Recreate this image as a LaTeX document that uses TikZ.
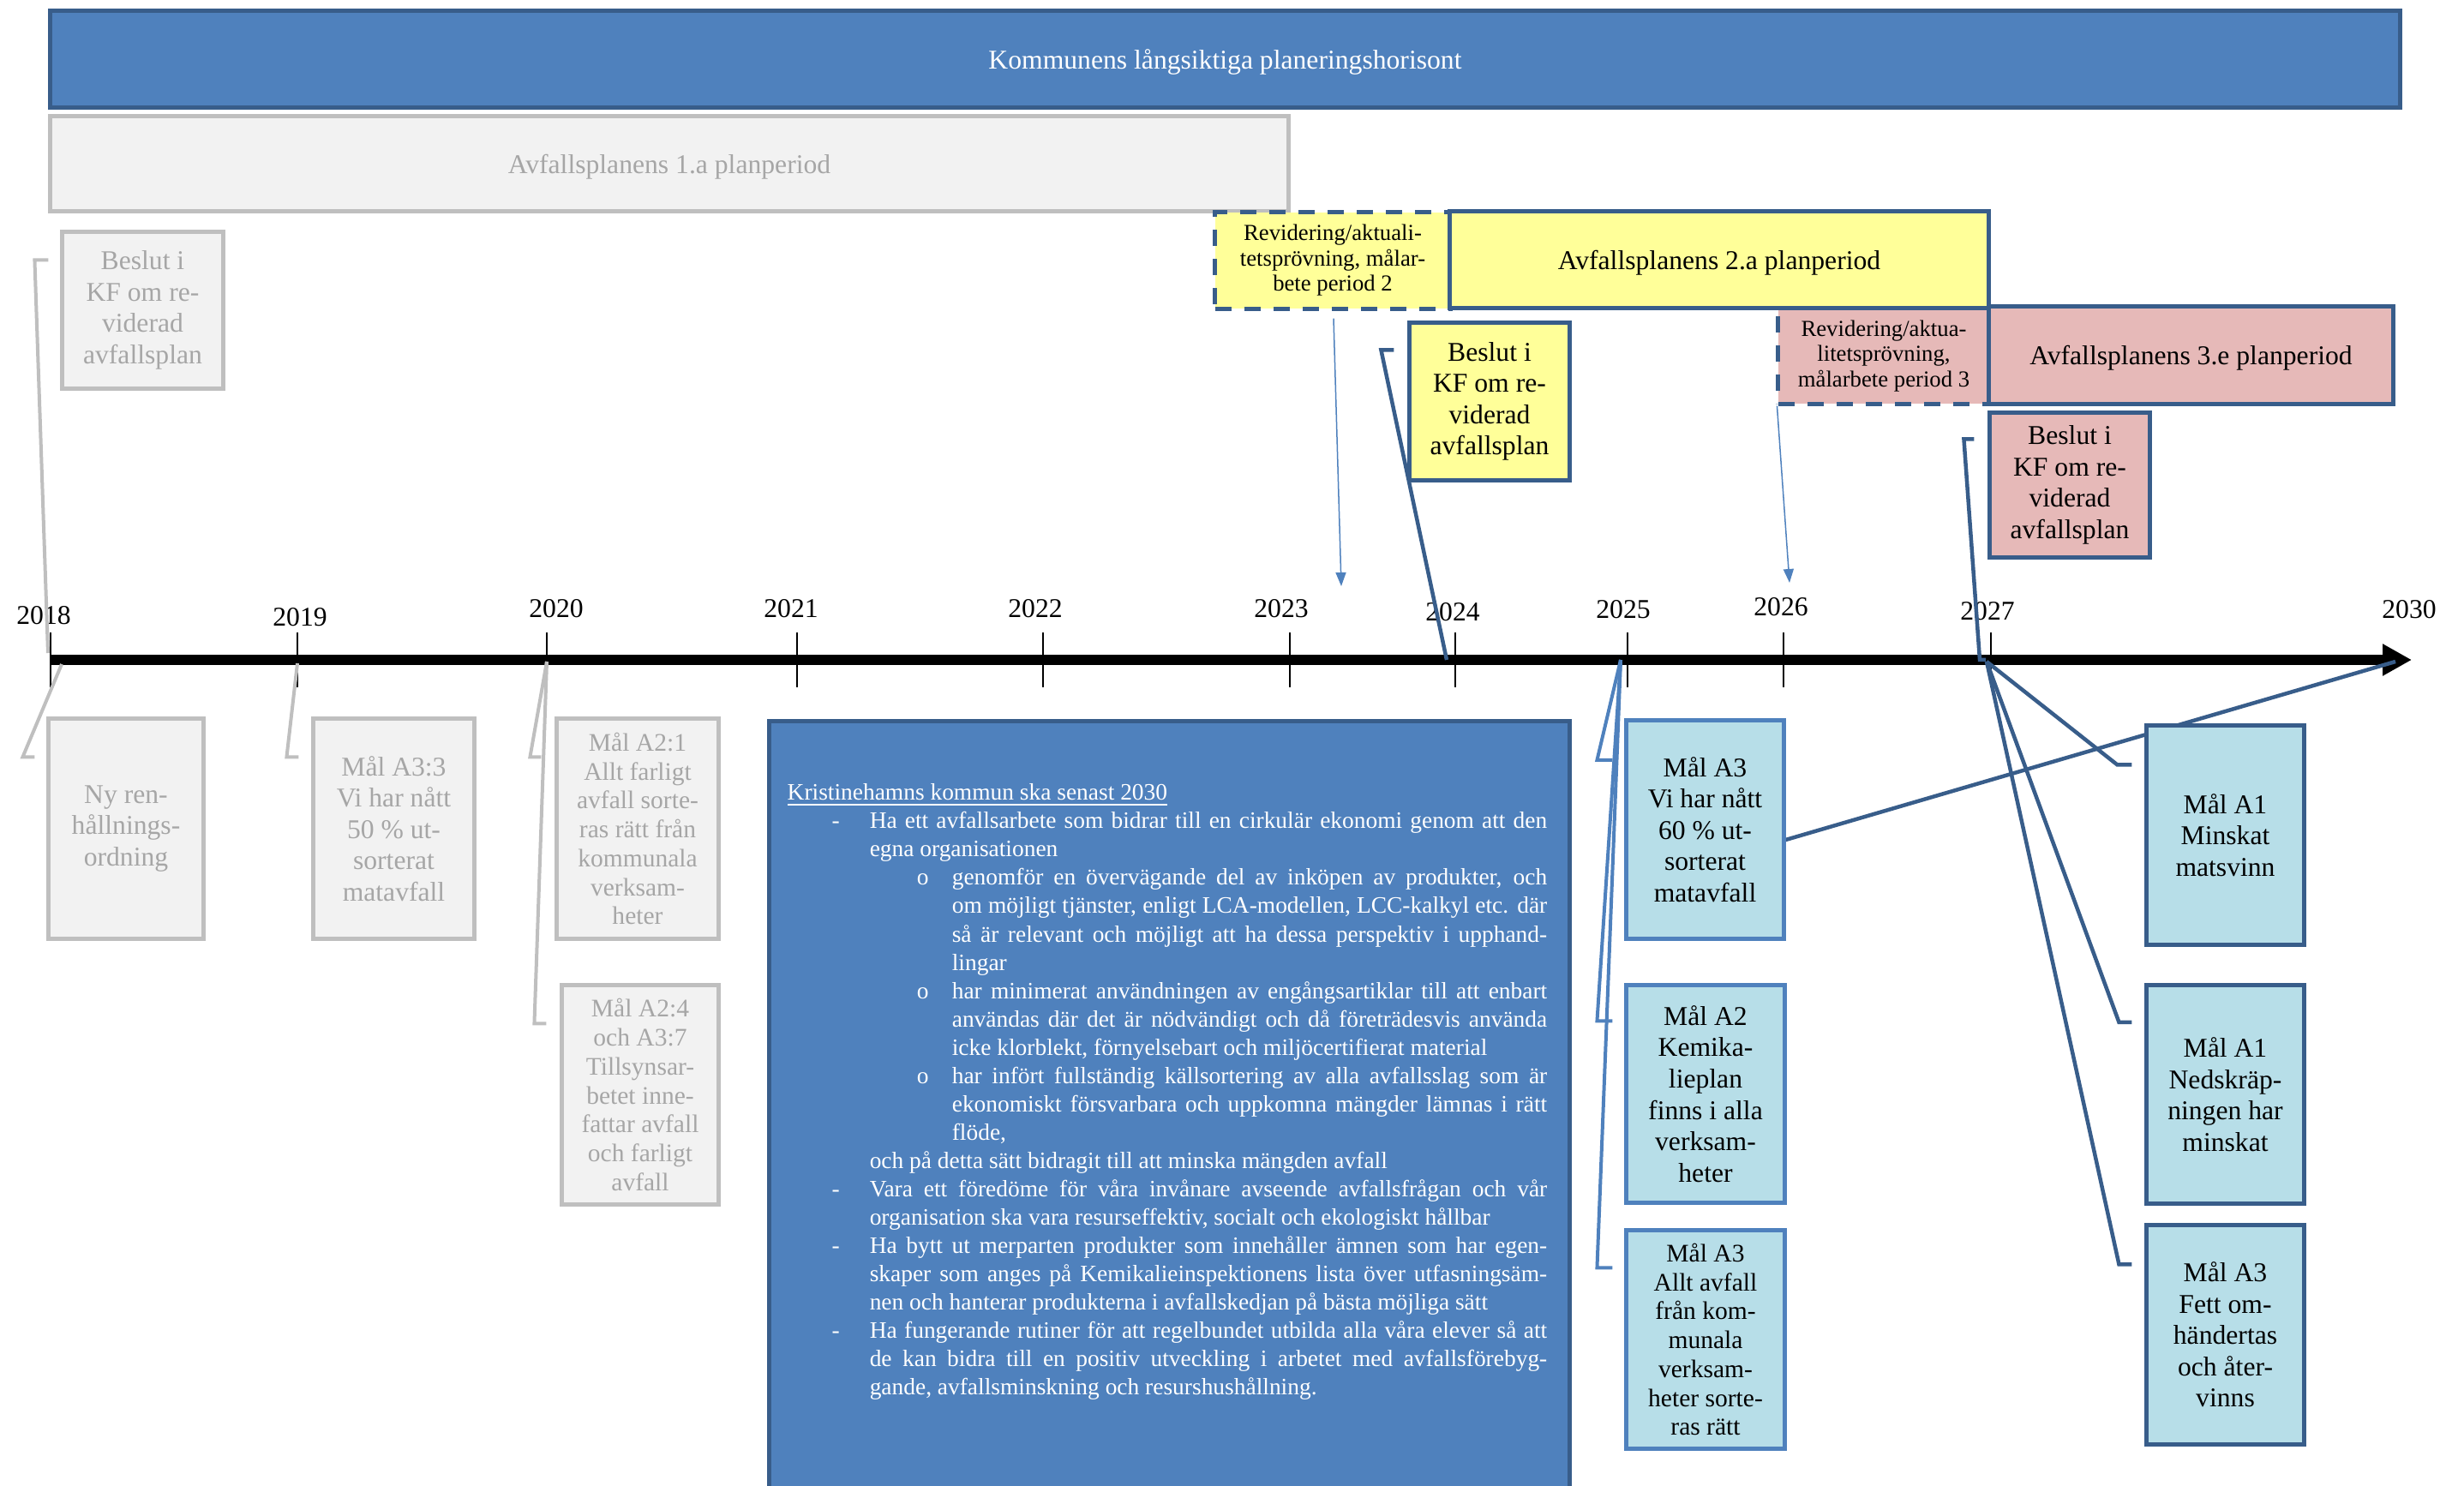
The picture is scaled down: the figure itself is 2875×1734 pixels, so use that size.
\documentclass[tikz,border=0pt]{standalone}
\usepackage{fontspec}
\setmainfont{Liberation Serif}
\usetikzlibrary{arrows.meta,backgrounds}

\definecolor{hzblue}{HTML}{4F81BD}
\definecolor{hzdark}{HTML}{385D8A}
\definecolor{goalfill}{HTML}{B7DEE8}
\definecolor{planyellow}{HTML}{FFFF99}
\definecolor{planpink}{HTML}{E6B9B8}
\definecolor{oldfill}{HTML}{F2F2F2}
\definecolor{oldline}{HTML}{BFBFBF}
\definecolor{oldtext}{HTML}{A6A6A6}

\newenvironment{dashlist}{%
  \begin{list}{-}{%
    \setlength{\leftmargin}{0.96cm}%
    \setlength{\labelwidth}{0.44cm}%
    \setlength{\labelsep}{0pt}%
    \setlength{\topsep}{0pt}%
    \setlength{\partopsep}{0pt}%
    \setlength{\itemsep}{0pt}%
    \setlength{\parsep}{0pt}%
    \setlength{\listparindent}{0pt}%
    \renewcommand*{\makelabel}[1]{##1\hfil}}}%
  {\end{list}}
\newenvironment{circlist}{%
  \begin{list}{o}{%
    \setlength{\leftmargin}{0.96cm}%
    \setlength{\labelwidth}{0.41cm}%
    \setlength{\labelsep}{0pt}%
    \setlength{\topsep}{0pt}%
    \setlength{\partopsep}{0pt}%
    \setlength{\itemsep}{0pt}%
    \setlength{\parsep}{0pt}%
    \setlength{\listparindent}{0pt}%
    \renewcommand*{\makelabel}[1]{##1\hfil}}}%
  {\end{list}}

\begin{document}
\begin{tikzpicture}[x=0.01cm, y=-0.01cm]
    \tikzset{
        box/.style={rectangle, draw=hzdark, line width=0.05cm, inner sep=0pt,
            align=center, font=\fontsize{9}{10.4}\selectfont},
        barbox/.style={text depth=0pt},
        smalltext/.style={font=\fontsize{8.4}{9.6}\selectfont},
        horizonbar/.style={box, barbox, fill=hzblue, text=white},
        oldbox/.style={box, draw=oldline, fill=oldfill, text=oldtext},
        yellowbox/.style={box, fill=planyellow},
        pinkbox/.style={box, fill=planpink},
        revbox/.style={box, dash pattern=on 0.19cm off 0.15cm,
            font=\fontsize{7.6}{8.4}\selectfont},
        goalbox/.style={box, draw=hzblue, fill=goalfill,
            minimum width=1.83cm, minimum height=2.55cm},
        panel/.style={rectangle, draw=hzdark, fill=hzblue, line width=0.05cm},
        paneltext/.style={inner sep=0pt, text=white, text width=8.86cm,
            align=justify, font=\fontsize{7.8}{9.4}\selectfont},
        yearlabel/.style={font=\fontsize{9}{10}\selectfont, inner sep=0pt},
        tickline/.style={line width=0.015cm},
        axisline/.style={line width=0.11cm, -{Triangle[length=0.34cm, width=0.35cm]}},
        oldcall/.style={draw=oldline, line width=0.04cm},
        bluecall/.style={draw=hzblue, line width=0.04cm},
        darkcall/.style={draw=hzdark, line width=0.045cm},
        revarrow/.style={draw=hzblue, line width=0.015cm,
            -{Triangle[length=0.16cm, width=0.12cm]}},
    }
    \useasboundingbox (0,0) rectangle (2875,1734);

    % Plan periods
    \node[horizonbar, minimum width=27.41cm, minimum height=1.12cm] (horizon) at (1429.5,69)
        {Kommunens långsiktiga planeringshorisont};
    \node[oldbox, barbox, minimum width=14.44cm, minimum height=1.10cm] (plan1) at (781,191)
        {Avfallsplanens 1.a planperiod};
    \node[oldbox, minimum width=1.87cm, minimum height=1.82cm] (beslut1) at (166.5,362)
        {Beslut i\\KF om re-\\viderad\\avfallsplan};
    \node[revbox, fill=planyellow, minimum width=2.74cm, minimum height=1.12cm] (rev2) at (1555,304)
        {Revidering/aktuali-\\tetsprövning, målar-\\bete period 2};
    \node[revbox, fill=planpink, minimum width=2.46cm, minimum height=1.11cm] (rev3) at (2198,415.5)
        {Revidering/aktua-\\litetsprövning,\\målarbete period 3};
    \node[yellowbox, barbox, minimum width=6.28cm, minimum height=1.12cm] (plan2) at (2006,303)
        {Avfallsplanens 2.a planperiod};
    \node[yellowbox, minimum width=1.86cm, minimum height=1.83cm] (beslut2) at (1738,468.5)
        {Beslut i\\KF om re-\\viderad\\avfallsplan};
    \node[pinkbox, barbox, minimum width=4.71cm, minimum height=1.13cm] (plan3) at (2556.5,414.5)
        {Avfallsplanens 3.e planperiod};
    \node[pinkbox, minimum width=1.86cm, minimum height=1.68cm] (beslut3) at (2415,566)
        {Beslut i\\KF om re-\\viderad\\avfallsplan};

    % Goals below the timeline
    \node[oldbox, minimum width=1.80cm, minimum height=2.56cm] (nyren) at (147,967)
        {Ny ren-\\hållnings-\\ordning};
    \node[oldbox, minimum width=1.87cm, minimum height=2.56cm] (a33) at (459.5,967)
        {Mål A3:3\\Vi har nått\\50 \% ut-\\sorterat\\matavfall};
    \node[oldbox, smalltext, minimum width=1.88cm, minimum height=2.56cm] (a21) at (744,967)
        {Mål A2:1\\Allt farligt\\avfall sorte-\\ras rätt från\\kommunala\\verksam-\\heter};
    \node[oldbox, smalltext, minimum width=1.82cm, minimum height=2.55cm] (a24) at (747,1277.5)
        {Mål A2:4\\och A3:7\\Tillsynsar-\\betet inne-\\fattar avfall\\och farligt\\avfall};
    \node[goalbox] (a3sixty) at (1989.5,968)
        {Mål A3\\Vi har nått\\60 \% ut-\\sorterat\\matavfall};
    \node[goalbox, minimum width=1.84cm, minimum height=2.53cm] (a2kem) at (1990,1276.5)
        {Mål A2\\Kemika-\\lieplan\\finns i alla\\verksam-\\heter};
    \node[goalbox, smalltext, minimum width=1.84cm, minimum height=2.54cm] (a3allt) at (1990,1563)
        {Mål A3\\Allt avfall\\från kom-\\munala\\verksam-\\heter sorte-\\ras rätt};
    \node[goalbox, draw=hzdark] (a1mat) at (2596.5,974.5)
        {Mål A1\\Minskat\\matsvinn};
    \node[goalbox, draw=hzdark] (a1ned) at (2596.5,1277)
        {Mål A1\\Nedskräp-\\ningen har\\minskat};
    \node[goalbox, draw=hzdark] (a3fett) at (2596.5,1557.5)
        {Mål A3\\Fett om-\\händertas\\och åter-\\vinns};

    % Goals 2030
    \node[panel, anchor=north west, minimum width=9.33cm, minimum height=9.2cm] (goals) at (895,839) {};
    \node[paneltext, anchor=north west] (goalstext) at ([shift={(23,75)}]goals.north west) {%
        \parindent=0pt\parskip=0pt\tolerance=10000
        \underline{Kristinehamns kommun ska senast 2030}
        \begin{dashlist}
        \item Ha ett avfallsarbete som bidrar till en cirkulär ekonomi genom att den\linebreak
            egna organisationen
            \begin{circlist}
            \item genomför en övervägande del av inköpen av produkter, och\linebreak
                om möjligt tjänster, enligt LCA-modellen, LCC-kalkyl etc. där\linebreak
                så är relevant och möjligt att ha dessa perspektiv i upphand-\linebreak
                lingar
            \item har minimerat användningen av engångsartiklar till att enbart\linebreak
                användas där det är nödvändigt och då företrädesvis använda\linebreak
                icke klorblekt, förnyelsebart och miljöcertifierat material
            \item har infört fullständig källsortering av alla avfallsslag som är\linebreak
                ekonomiskt försvarbara och uppkomna mängder lämnas i rätt\linebreak
                flöde,
            \end{circlist}
            och på detta sätt bidragit till att minska mängden avfall
        \item Vara ett föredöme för våra invånare avseende avfallsfrågan och vår\linebreak
            organisation ska vara resurseffektiv, socialt och ekologiskt hållbar
        \item Ha bytt ut merparten produkter som innehåller ämnen som har egen-\linebreak
            skaper som anges på Kemikalieinspektionens lista över utfasningsäm-\linebreak
            nen och hanterar produkterna i avfallskedjan på bästa möjliga sätt
        \item Ha fungerande rutiner för att regelbundet utbilda alla våra elever så att\linebreak
            de kan bidra till en positiv utveckling i arbetet med avfallsförebyg-\linebreak
            gande, avfallsminskning och resurshushållning.
        \end{dashlist}};

    \coordinate (rev2tip) at (1565,684);
    \coordinate (rev3tip) at (2088,680);

    \begin{scope}[on background layer]
        % Timeline
        \coordinate (axstart) at (59,770);
        \coordinate (axend) at (2814,770);
        \draw[axisline] (axstart) -- (axend);
        \foreach \yr/\x/\lx/\ly in {2018/59/51/718, 2019/347/350/720, 2020/638/649/710,
            2021/930/923/710, 2022/1217/1208/710, 2023/1505/1495/710, 2024/1698/1695/714,
            2025/1899/1894/711, 2026/2081/2078/708, 2027/2323/2319/713} {
            \coordinate (t\yr) at (\x,770);
            \draw[tickline] (\x,738) -- (\x,802);
            \node[yearlabel] (y\yr) at (\lx,\ly) {\yr};
        }
        \node[yearlabel] (y2030) at (2811,711) {2030};

        % Callouts
        \draw[oldcall] ([shift={(-3,-8)}]t2018) -- ([shift={(-30,35)}]beslut1.north west)
            -- ([shift={(-14,35)}]beslut1.north west);
        \draw[oldcall] ([shift={(13,5)}]t2018) -- ([shift={(-28,47)}]nyren.north west)
            -- ([shift={(-14,47)}]nyren.north west);
        \draw[oldcall] ([shift={(0,4)}]t2019) -- ([shift={(-29,47)}]a33.north west)
            -- ([shift={(-15,47)}]a33.north west);
        \draw[oldcall] ([shift={(0,2)}]t2020) -- ([shift={(-29,47)}]a21.north west)
            -- ([shift={(-16,47)}]a21.north west);
        \draw[oldcall] ([shift={(0,2)}]t2020) -- ([shift={(-30,47)}]a24.north west)
            -- ([shift={(-16,47)}]a24.north west);
        \draw[bluecall] ([shift={(-8,0)}]t2025) -- ([shift={(-32,49)}]a3sixty.north west)
            -- ([shift={(-14,49)}]a3sixty.north west);
        \draw[bluecall] ([shift={(-8,0)}]t2025) -- ([shift={(-32,44)}]a2kem.north west)
            -- ([shift={(-14,44)}]a2kem.north west);
        \draw[bluecall] ([shift={(-8,0)}]t2025) -- ([shift={(-32,46)}]a3allt.north west)
            -- ([shift={(-14,46)}]a3allt.north west);
        \draw[darkcall] ([shift={(-10,0)}]t2024) -- ([shift={(-31,34)}]beslut2.north west)
            -- ([shift={(-16,34)}]beslut2.north west);
        \draw[darkcall] ([shift={(-6,0)}]t2027) -- ([shift={(-13,0)}]t2027)
            -- ([shift={(-28,33)}]beslut3.north west) -- ([shift={(-16,33)}]beslut3.north west);
        \draw[darkcall] ([shift={(-5,2)}]t2027) -- ([shift={(-32,48)}]a1mat.north west)
            -- ([shift={(-15,48)}]a1mat.north west);
        \draw[darkcall] ([shift={(-5,2)}]t2027) -- ([shift={(-30,46)}]a1ned.north west)
            -- ([shift={(-15,46)}]a1ned.north west);
        \draw[darkcall] ([shift={(-5,2)}]t2027) -- ([shift={(-30,48)}]a3fett.north west)
            -- ([shift={(-15,48)}]a3fett.north west);
        \draw[darkcall] ([shift={(0,12)}]a3sixty.east) -- ([shift={(-19,2)}]axend);

        % Revision arrows
        \draw[revarrow] ([shift={(1,9)}]rev2.south) -- (rev2tip);
        \draw[revarrow] ([shift={(1,0)}]rev3.south west) -- (rev3tip);
    \end{scope}
\end{tikzpicture}
\end{document}
